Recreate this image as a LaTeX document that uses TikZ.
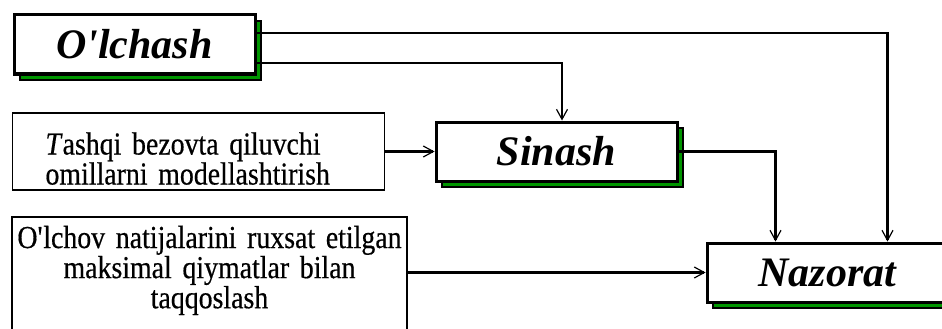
\documentclass[tikz,border=0pt]{standalone}
\usepackage{fontspec}
\setmainfont{Liberation Serif}[FakeStretch=0.87, FakeBold=0.5]
\newfontfamily\headfont{Liberation Serif}
\usetikzlibrary{calc, shadows, arrows.meta}

\definecolor{shadowgreen}{RGB}{0,150,0}

\begin{document}
\begin{tikzpicture}[x=1pt, y=-1pt,
  block/.style={draw, line width=3pt, fill=white, minimum width=241pt, minimum height=59pt, inner sep=0pt,
    font=\headfont\fontsize{42}{42}\selectfont\bfseries\itshape,
    drop shadow={shadow xshift=6pt, shadow yshift=-6pt, fill=shadowgreen, draw=black, line width=2pt, opacity=1}},
  textbox/.style={draw, line width=1.6pt, inner ysep=0pt, font=\fontsize{32}{27}\selectfont},
  arr/.style={line width=2.4pt, -{Straight Barb[length=10pt, width=11pt, line width=1.2pt]}}]
\useasboundingbox (0,0) rectangle (942,329);
% blocks
\node[block] (olch) at (134.5,44.5) {O\textquotesingle lchash};
\node[block] (sin) at (556.5,151.5) {Sinash};
\node[block] (naz) at (827.5,272.5) {Nazorat};
% inputs
\node[textbox, minimum height=77pt, inner xsep=33pt, text width=306pt, align=left,
  text height=20pt, text depth=14pt] (tash) at (198.5,151.5)
  {\makebox[280pt][s]{\textit{T}ashqi bezovta qiluvchi}\\omillarni modellashtirish};
\node[textbox, minimum height=128pt, inner xsep=2.5pt, text width=390pt, align=center,
  text height=20pt, text depth=86pt] (olv) at (209.5,281)
  {O\textquotesingle lchov natijalarini ruxsat etilgan\\maksimal qiymatlar bilan\\taqqoslash};
% links
\draw[arr] ([yshift=11.5pt]olch.east) -| ([xshift=60pt]naz.north);
\draw[arr] ([yshift=-18.5pt]olch.east) -| ([xshift=5.5pt]sin.north);
\draw[arr] (tash.east) -- (sin.west);
\draw[arr] (sin.east) -| ([xshift=-52pt]naz.north);
\draw[arr] (olv.east |- naz.west) -- (naz.west);
\end{tikzpicture}
\end{document}
